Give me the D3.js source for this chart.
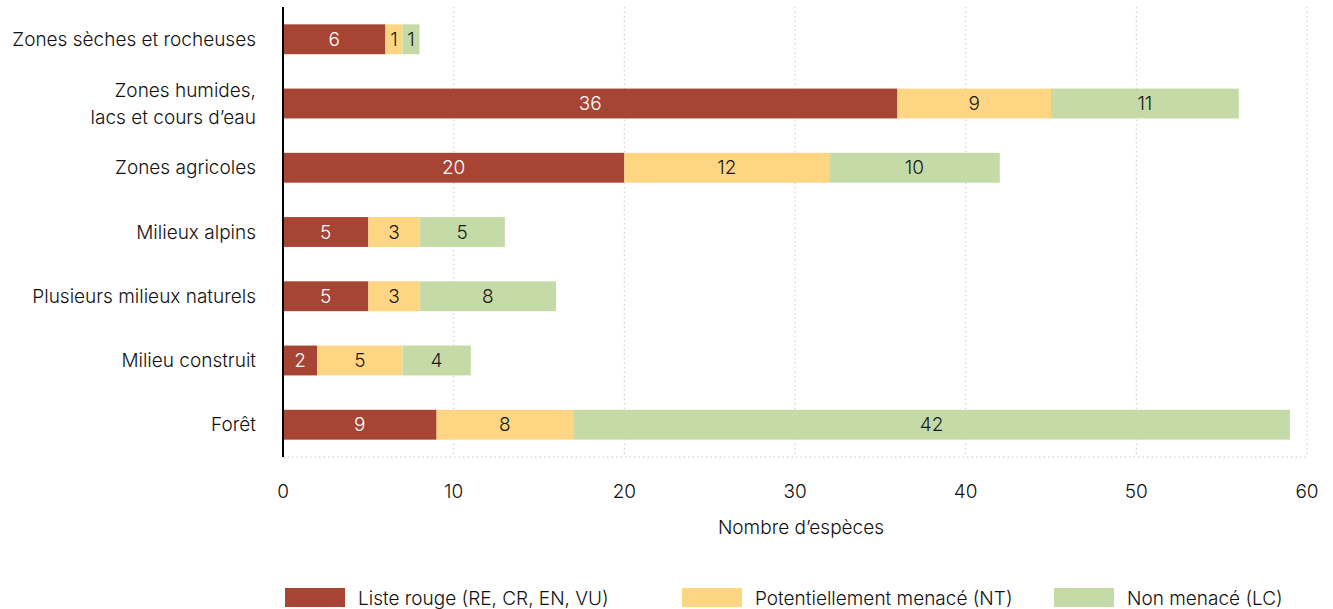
<!DOCTYPE html>
<html>
<head>
<meta charset="utf-8">
<script src="https://cdn.jsdelivr.net/npm/d3@7"></script>
<style>
  html, body { margin: 0; padding: 0; background: #fff; }
  svg { display: block; font-family: Inter, "Noto Sans", sans-serif; }
</style>
</head>
<body>
<svg id="chart" width="1333" height="609"></svg>
<script>
// Habitats (rows, top to bottom)
const categories = [
  "Zones sèches et rocheuses",
  "Zones humides,\nlacs et cours d’eau",
  "Zones agricoles",
  "Milieux alpins",
  "Plusieurs milieux naturels",
  "Milieu construit",
  "Forêt"
];
// Species counts per threat status
const listeRouge = [6, 36, 20, 5, 5, 2, 9];
const potentiellementMenace = [1, 9, 12, 3, 3, 5, 8];
const nonMenace = [1, 11, 10, 5, 8, 4, 42];

const seriesNames = ["Liste rouge (RE, CR, EN, VU)", "Potentiellement menacé (NT)", "Non menacé (LC)"];
const seriesColors = ["#a84433", "#fed582", "#c4dba7"];
const labelColors = ["#ffffff", "#1a1a1a", "#1a1a1a"];
const xTicks = [0, 10, 20, 30, 40, 50, 60];
const xTitle = "Nombre d’espèces";

const FS = 19;
const svg = d3.select("#chart");
const margin = { left: 283, right: 26, top: 7, bottom: 152 };
const W = 1333, H = 609;
const x = d3.scaleLinear().domain([0, 60]).range([margin.left, W - margin.right]);
const y = d3.scaleBand().domain(categories).range([margin.top, H - margin.bottom]).paddingInner(0.535).paddingOuter(0.27);

const keys = ["rouge", "nt", "lc"];
const table = categories.map((c, i) => ({ cat: c, rouge: listeRouge[i], nt: potentiellementMenace[i], lc: nonMenace[i] }));
const stacked = d3.stack().keys(keys)(table);

// Dotted gridlines
const gridG = svg.append("g");
gridG.selectAll("line.v").data(xTicks.filter(t => t > 0)).join("line")
  .attr("x1", d => x(d)).attr("x2", d => x(d))
  .attr("y1", margin.top).attr("y2", H - margin.bottom)
  .attr("stroke", "#c8c8c8").attr("stroke-width", 1).attr("stroke-dasharray", "1.5,3");
gridG.append("line")
  .attr("x1", x(0)).attr("x2", x(60))
  .attr("y1", H - margin.bottom).attr("y2", H - margin.bottom)
  .attr("stroke", "#c8c8c8").attr("stroke-width", 1).attr("stroke-dasharray", "1.5,3");

// Stacked bars
const layers = svg.append("g").selectAll("g").data(stacked).join("g")
  .attr("fill", (d, i) => seriesColors[i]);
layers.selectAll("rect").data(d => d).join("rect")
  .attr("x", d => x(d[0]))
  .attr("y", d => y(d.data.cat))
  .attr("width", d => x(d[1]) - x(d[0]))
  .attr("height", y.bandwidth());

// Value labels
const lbl = svg.append("g").selectAll("g").data(stacked).join("g")
  .attr("fill", (d, i) => labelColors[i]);
lbl.selectAll("text").data(d => d).join("text")
  .attr("x", d => (x(d[0]) + x(d[1])) / 2)
  .attr("y", d => y(d.data.cat) + y.bandwidth() / 2)
  .attr("dy", "0.35em")
  .attr("text-anchor", "middle")
  .attr("font-size", FS)
  .attr("font-weight", 300)
  .text(d => d[1] - d[0]);

// Category axis
const yAxis = svg.append("g");
yAxis.append("line")
  .attr("x1", x(0)).attr("x2", x(0))
  .attr("y1", margin.top).attr("y2", H - margin.bottom)
  .attr("stroke", "#000").attr("stroke-width", 2);
categories.forEach(c => {
  const lines = c.split("\n");
  const cy = y(c) + y.bandwidth() / 2;
  const t = yAxis.append("text")
    .attr("x", x(0) - 27)
    .attr("text-anchor", "end")
    .attr("font-size", FS)
    .attr("font-weight", 300)
    .attr("fill", "#111");
  lines.forEach((ln, k) => {
    t.append("tspan")
      .attr("x", x(0) - 27)
      .attr("y", cy + (k - (lines.length - 1) / 2) * 27)
      .attr("dy", "0.35em")
      .text(ln);
  });
});

// Value axis
const xAxis = svg.append("g").attr("font-weight", 300);
xAxis.selectAll("text").data(xTicks).join("text")
  .attr("x", d => x(d))
  .attr("y", 491)
  .attr("dy", "0.35em")
  .attr("text-anchor", "middle")
  .attr("font-size", FS)
  .attr("fill", "#111")
  .text(d => d);
xAxis.append("text")
  .attr("x", 801).attr("y", 527).attr("dy", "0.35em")
  .attr("text-anchor", "middle").attr("font-size", FS).attr("fill", "#111")
  .text(xTitle);

// Legend
const legendX = [285, 682, 1054];
const leg = svg.append("g").attr("font-weight", 300).selectAll("g").data(seriesNames).join("g")
  .attr("transform", (d, i) => `translate(${legendX[i]},588)`);
leg.append("rect").attr("width", 60).attr("height", 19).attr("fill", (d, i) => seriesColors[i]);
leg.append("text").attr("x", 73).attr("y", 10).attr("dy", "0.35em")
  .attr("font-size", FS).attr("fill", "#111").text(d => d);
</script>
</body>
</html>
